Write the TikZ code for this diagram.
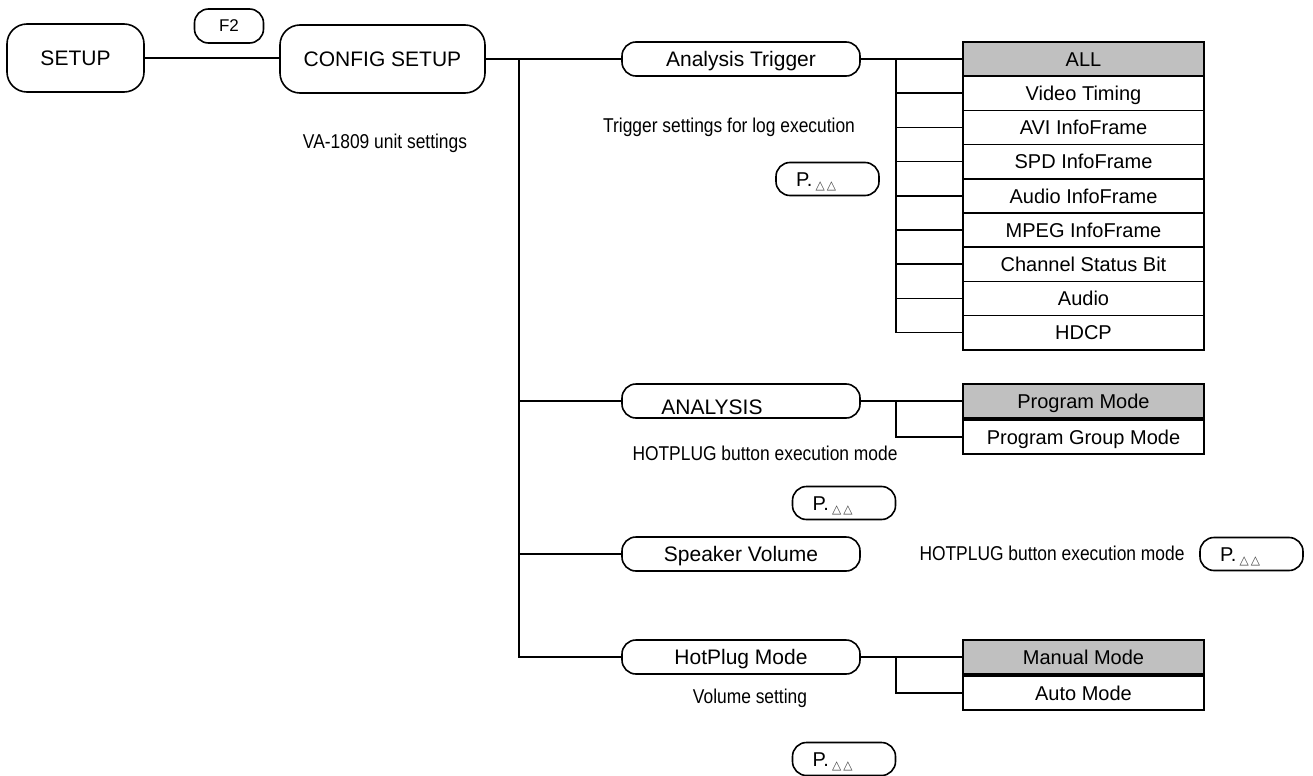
\documentclass[tikz,border=0pt]{standalone}
\usepackage{fontspec}
\setmainfont{Liberation Sans}
\newfontfamily\narrowfont[FakeStretch=0.87]{Liberation Sans}
\newfontfamily\symfont{DejaVu Sans}
\usetikzlibrary{positioning}
\definecolor{listgray}{HTML}{C0C0C0}
\newcommand{\pagemark}{P.\,\raisebox{-1.5pt}{\symfont\fontsize{6}{6}\selectfont\color{darkgray}△\,△}}

\begin{document}
\begin{tikzpicture}[x=0.5pt, y=-0.5pt, line width=0.8pt,
  topbox/.style={draw, rounded corners=10pt, minimum height=34pt, inner sep=0pt, text height=7.5pt, text depth=0pt, font=\fontsize{10.5}{12}\selectfont},
  menubox/.style={draw, rounded corners=7pt, minimum width=119pt, minimum height=17pt, inner sep=0pt, text height=7.5pt, text depth=0pt, font=\fontsize{10.5}{12}\selectfont},
  itembox/.style={draw, minimum width=120.5pt, minimum height=17.1pt, inner sep=0pt, text height=7.2pt, text depth=0pt, font=\fontsize{10}{11}\selectfont},
  pagebox/.style={draw, rounded corners=7pt, minimum width=51.5pt, minimum height=16.5pt, text width=31.5pt, inner xsep=10pt, inner ysep=0pt, text height=7.2pt, text depth=0pt, align=left, font=\fontsize{10}{11}\selectfont},
  note/.style={font=\narrowfont\fontsize{10}{12}\selectfont}]

\useasboundingbox (0,0) rectangle (1313,776);

\node[topbox, minimum width=68.5pt] (setup) at (75.5,58) {SETUP};
\node[draw, rounded corners=7pt, minimum width=34.5pt, minimum height=17pt, inner sep=0pt, text height=6pt, text depth=0pt, font=\fontsize{8.5}{9}\selectfont] (fkey) at (229,26) {F2};
\node[topbox, minimum width=102.5pt] (config) at (382.5,59) {CONFIG SETUP};
\node[note] (unitnote) at (385,143) {VA-1809 unit settings};

\node[menubox] (trig) at (741,59) {Analysis Trigger};
\node[menubox, label={[font=\fontsize{10.5}{12}\selectfont, xshift=-14.5pt, yshift=-3pt]center:ANALYSIS}] (analysis) at (741,401) {};
\node[menubox] (speaker) at (741,554) {Speaker Volume};
\node[menubox] (hotplug) at (741,657) {HotPlug Mode};

\node[note] (trignote) at (729,127) {Trigger settings for log execution};
\node[note] (analysisnote) at (765,453) {HOTPLUG button execution mode};
\node[note] (speakernote) at (1052,553) {HOTPLUG button execution mode};
\node[note] (hotplugnote) at (750,698) {Volume setting};

\node[pagebox] (trigpage) at (827.5,179) {\pagemark};
\node[pagebox] (analysispage) at (844,503) {\pagemark};
\node[pagebox] (speakerpage) at (1251.5,554) {\pagemark};
\node[pagebox] (hotplugpage) at (844,759) {\pagemark};

\node[itembox, fill=listgray] (trg0) at (1083.5,59) {ALL};
\foreach \t [count=\i] in {Video Timing, AVI InfoFrame, SPD InfoFrame, Audio InfoFrame, MPEG InfoFrame, Channel Status Bit, Audio, HDCP}
  \node[itembox] (trg\i) at (1083.5,{59+34.2*\i}) {\t};

\node[itembox, fill=listgray] (prog) at (1083.5,401) {Program Mode};
\node[itembox, below=0pt of prog] (group) {Program Group Mode};
\node[itembox, fill=listgray] (manual) at (1083.5,657) {Manual Mode};
\node[itembox, below=0pt of manual] (auto) {Auto Mode};

\draw (setup.east) -- (setup.east -| config.west);
\coordinate (cbus) at (519,59);
\draw (config.east) -- (trig.west);
\draw (cbus) |- (hotplug.west);
\draw (cbus |- analysis.west) -- (analysis.west);
\draw (cbus |- speaker.west) -- (speaker.west);

\coordinate (tbus) at (896,59);
\draw (trig.east) -- (trg0.west);
\draw (tbus) |- (trg8.west);
\foreach \i in {1,...,7}
  \draw (tbus |- trg\i.west) -- (trg\i.west);

\draw (analysis.east) -- (prog.west);
\draw (prog.west -| tbus) |- (group.west);
\draw (hotplug.east) -- (manual.west);
\draw (manual.west -| tbus) |- (auto.west);
\end{tikzpicture}
\end{document}
